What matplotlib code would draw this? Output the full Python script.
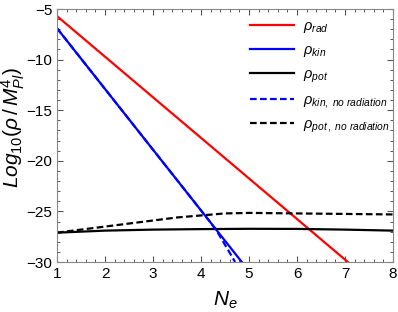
import matplotlib
matplotlib.use('Agg')
import matplotlib.pyplot as plt
from matplotlib.ticker import MultipleLocator

# data
ne_rad = [1.0, 7.06]
rho_rad = [-5.7, -30.0]

ne_kin = [1.0, 4.85]
rho_kin = [-6.9, -30.0]

ne_kin_nr = [1.0, 4.0, 4.2, 4.35, 4.5, 4.6, 4.71]
rho_kin_nr = [-6.9, -24.9, -26.1, -27.1, -28.3, -29.1, -30.0]

ne_pot = [1.0, 1.5, 2.0, 3.0, 4.0, 5.0, 6.0, 7.0, 8.0]
rho_pot = [-27.1, -27.0, -26.9, -26.8, -26.75, -26.72, -26.73, -26.8, -26.9]

ne_pot_nr = [1.0, 1.5, 2.0, 2.5, 3.0, 3.5, 4.0, 4.5, 5.0, 6.0, 7.0, 8.0]
rho_pot_nr = [-27.1, -26.8, -26.5, -26.2, -25.9, -25.6, -25.4, -25.2, -25.15, -25.2, -25.25, -25.3]

plt.rcParams['font.family'] = ['Liberation Sans', 'DejaVu Sans']
plt.rcParams['mathtext.fontset'] = 'custom'
plt.rcParams['mathtext.rm'] = 'Liberation Sans'
plt.rcParams['mathtext.it'] = 'Liberation Sans:italic'

fig = plt.figure(figsize=(3.98, 3.12), dpi=100)
ax = fig.add_axes([57 / 398, 1 - 262 / 312, 336 / 398, 253 / 312])

ax.plot(ne_rad, rho_rad, color='#ff0000', lw=1.6, label=r'$\mathit{\rho_{rad}}$')
ax.plot(ne_kin, rho_kin, color='#0000ff', lw=1.6, label=r'$\mathit{\rho_{kin}}$')
ax.plot(ne_pot, rho_pot, color='black', lw=1.6, label=r'$\mathit{\rho_{pot}}$')
ax.plot(ne_kin_nr, rho_kin_nr, color='#0000ff', lw=1.6, ls=(0, (3, 1.5)),
        label=r'$\mathit{\rho_{kin,\ no\ radiation}}$')
ax.plot(ne_pot_nr, rho_pot_nr, color='black', lw=1.6, ls=(0, (3, 1.5)),
        label=r'$\mathit{\rho_{pot\,,\ no\ radiation}}$')

ax.set_xlim(1, 8)
ax.set_ylim(-30, -5)
ax.xaxis.set_major_locator(MultipleLocator(1))
ax.xaxis.set_minor_locator(MultipleLocator(0.2))
ax.yaxis.set_major_locator(MultipleLocator(5))
ax.yaxis.set_minor_locator(MultipleLocator(1))
ax.tick_params(which='both', direction='in', top=True, right=True,
               color='#555555', labelsize=11)
ax.tick_params(which='major', length=4, width=0.8)
ax.tick_params(which='minor', length=2.2, width=0.7)
for s in ax.spines.values():
    s.set_color('#888888')
    s.set_linewidth(0.8)

ax.set_xlabel(r'$N_e$', fontsize=15)
ax.xaxis.set_label_coords(0.5, -0.11)
ax.set_ylabel(r'$Log_{10}(\rho\,/\,M_{Pl}^{4})$', fontsize=15)
ax.yaxis.set_label_coords(-0.088, 0.53)

ax.legend(loc='upper left', bbox_to_anchor=(0.545, 1.0), frameon=False,
          fontsize=10.5, handlelength=3.0, labelspacing=0.55,
          borderaxespad=0.3, handletextpad=0.6)

plt.savefig('out.png', dpi=100)
